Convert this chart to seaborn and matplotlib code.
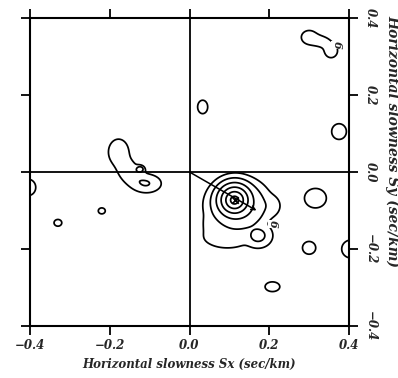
import numpy as np
import matplotlib.pyplot as plt
import seaborn as sns

# axis ticks (sec/km)
ticks = [-0.4, -0.2, 0.0, 0.2, 0.4]
tick_labels = ['\u22120.4', '\u22120.2', '0.0', '0.2', '0.4']

# main beam peak
peak_sx = 0.113
peak_sy = -0.073
peak_amp = 57.6
peak_decay = 0.017

# arrow tip (direction of the main arrival)
arrow_sx = 0.168
arrow_sy = -0.100

# lobes around the main peak: centre x, centre y, amplitude, width x, width y
main_sx = [0.122, 0.095, 0.172, 0.200, 0.048]
main_sy = [-0.088, -0.168, -0.165, -0.088, -0.135]
main_amp = [4.75, 1.60, 2.40, 1.60, 1.50]
main_wx = [0.050, 0.060, 0.028, 0.027, 0.014]
main_wy = [0.045, 0.030, 0.025, 0.028, 0.030]

# isolated side lobes: centre x, centre y, amplitude, width x, width y
lobe_sx = [-0.405, -0.330, -0.220,              # small ones on the left
           -0.178, -0.150, -0.108, -0.123,      # elongated one near origin
           0.033, 0.300, 0.330, 0.355,          # upper right
           0.375, 0.316, 0.300, 0.405, 0.208]   # right side
lobe_sy = [-0.040, -0.132, -0.101,
           0.052, 0.000, -0.030, 0.008,
           0.169, 0.350, 0.340, 0.315,
           0.105, -0.068, -0.197, -0.200, -0.298]
lobe_amp = [1.6, 1.6, 1.6,
            1.5, 1.3, 2.04, 2.0,
            1.6, 1.6, 1.2, 1.5,
            1.6, 1.6, 1.6, 1.6, 1.6]
lobe_wx = [0.020, 0.010, 0.009,
           0.028, 0.020, 0.031, 0.007,
           0.013, 0.020, 0.015, 0.018,
           0.019, 0.028, 0.017, 0.024, 0.019]
lobe_wy = [0.022, 0.009, 0.008,
           0.037, 0.020, 0.020, 0.006,
           0.018, 0.018, 0.010, 0.020,
           0.021, 0.026, 0.017, 0.024, 0.013]

levels = [1, 2, 4, 8, 16, 32]

# contour labels
clabel_sx = [0.211, 0.370]
clabel_sy = [-0.135, 0.330]
clabel_txt = ['6', '6']

sns.set_theme(style='white')
font = dict(family='DejaVu Serif', weight='bold', style='italic')


def gauss(X, Y, cx, cy, a, wx, wy):
    return a * np.exp(-0.5 * (((X - cx) / wx) ** 2 + ((Y - cy) / wy) ** 2))


# build the beam power grid
sx = np.linspace(-0.45, 0.45, 541)
sy = np.linspace(-0.45, 0.45, 541)
X, Y = np.meshgrid(sx, sy)
p = 4
acc = (peak_amp * np.exp(-np.hypot(X - peak_sx, Y - peak_sy) / peak_decay)) ** p
for args in zip(main_sx, main_sy, main_amp, main_wx, main_wy):
    acc += gauss(X, Y, *args) ** p
power = acc ** (1 / p)
for args in zip(lobe_sx, lobe_sy, lobe_amp, lobe_wx, lobe_wy):
    power += gauss(X, Y, *args)

fig = plt.figure(figsize=(3.98, 3.78), dpi=100)
ax = fig.add_axes([30 / 398, 52 / 378, 319 / 398, 308 / 378])

ax.contour(X, Y, power, levels=levels, colors='black', linewidths=1.25)

# crosshair through the origin
ax.axhline(0, color='black', lw=1.3)
ax.axvline(0, color='black', lw=1.3)

# arrow from origin towards the peak, with the peak marked
ax.annotate('', xy=(arrow_sx, arrow_sy), xytext=(0, 0),
            arrowprops=dict(arrowstyle='->', color='black', lw=1.1,
                            shrinkA=0, shrinkB=0, mutation_scale=7))
sns.scatterplot(x=[peak_sx], y=[peak_sy], marker='x', s=22, color='black',
                linewidth=1.2, ax=ax, legend=False)

for x, y, t in zip(clabel_sx, clabel_sy, clabel_txt):
    ax.text(x, y, t, rotation=-90, ha='center', va='center', fontsize=8,
            bbox=dict(facecolor='white', edgecolor='none', pad=0.3), **font)

ax.set_xlim(-0.4, 0.4)
ax.set_ylim(-0.4, 0.4)
ax.set_xticks(ticks)
ax.set_xticklabels(tick_labels, fontsize=8.5, **font)
ax.set_yticks(ticks)
ax.set_yticklabels(tick_labels, fontsize=8.5, rotation=-90, va='center', **font)
ax.tick_params(direction='out', length=6.5, width=1.3, color='black',
               top=True, bottom=True, left=True, right=True,
               labelleft=False, labelright=True, labelbottom=True, labeltop=False)
ax.tick_params(axis='x', pad=3)
ax.tick_params(axis='y', pad=4)
for sp in ax.spines.values():
    sp.set_color('black')
    sp.set_linewidth(1.5)

ax.set_xlabel('Horizontal slowness Sx (sec/km)', fontsize=8.5, labelpad=4, **font)
ax.yaxis.set_label_position('right')
ax.set_ylabel('Horizontal slowness Sy (sec/km)', fontsize=10, rotation=-90,
              va='center', **font)
ax.yaxis.set_label_coords(1.135, 0.6)

fig.savefig('out.png', dpi=100)
plt.close(fig)
